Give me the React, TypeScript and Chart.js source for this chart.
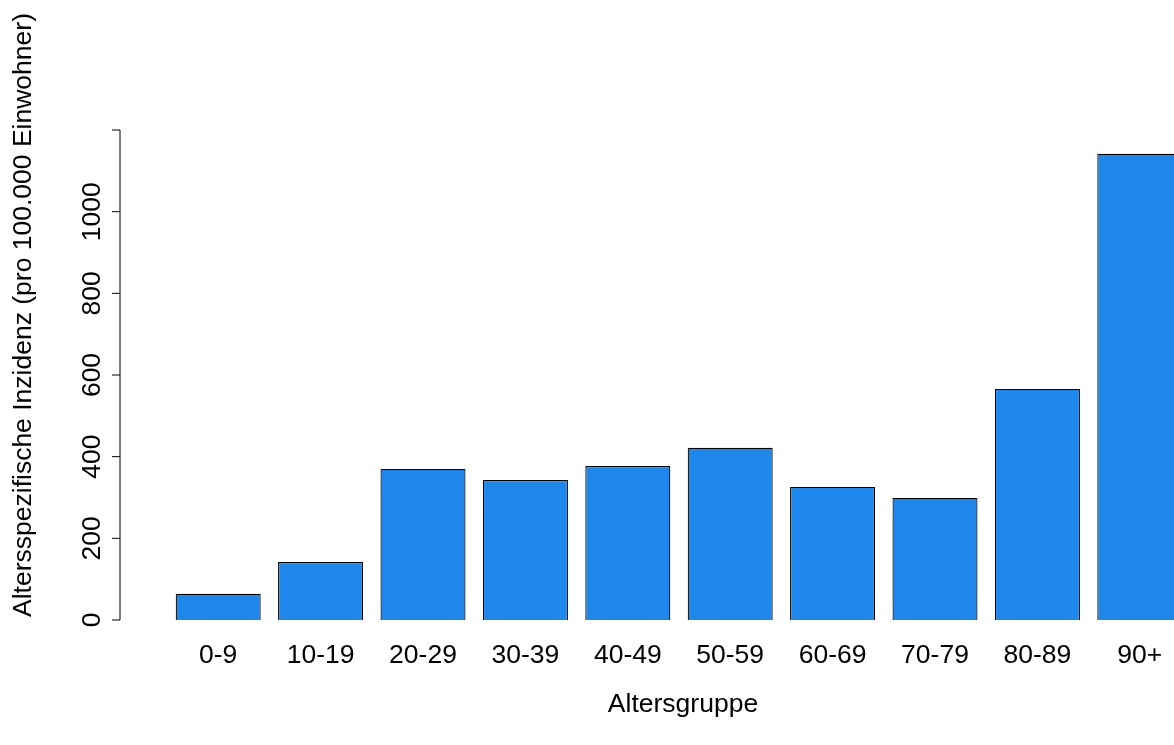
import { useEffect, useRef } from "react";
import Chart from "chart.js/auto";

const categories = ["0-9", "10-19", "20-29", "30-39", "40-49", "50-59", "60-69", "70-79", "80-89", "90+"];
const incidence = [64, 142, 370, 343, 377, 422, 326, 299, 566, 1142];
const yTicks = [0, 200, 400, 600, 800, 1000, 1200];
const yLabels = ["0", "200", "400", "600", "800", "1000"];

const FONT = "26.5px 'Liberation Sans', Arial, sans-serif";

const axesPlugin = {
  id: "rAxes",
  afterDraw(chart: any) {
    const ctx = chart.ctx;
    const y = chart.scales.y;
    const x = chart.scales.x;
    ctx.save();
    ctx.strokeStyle = "#000";
    ctx.fillStyle = "#000";
    ctx.lineWidth = 1;
    ctx.font = FONT;
    const ax = 120;
    ctx.beginPath();
    ctx.moveTo(ax, y.getPixelForValue(yTicks[0]));
    ctx.lineTo(ax, y.getPixelForValue(yTicks[yTicks.length - 1]));
    yTicks.forEach((t) => {
      const py = y.getPixelForValue(t);
      ctx.moveTo(ax, py);
      ctx.lineTo(ax - 8, py);
    });
    ctx.stroke();
    yLabels.forEach((l) => {
      const py = y.getPixelForValue(Number(l));
      ctx.save();
      ctx.translate(93, py);
      ctx.rotate(-Math.PI / 2);
      ctx.textAlign = "center";
      ctx.textBaseline = "middle";
      ctx.fillText(l, 0, 0);
      ctx.restore();
    });
    ctx.textAlign = "center";
    ctx.textBaseline = "middle";
    categories.forEach((c, i) => {
      ctx.fillText(c, x.getPixelForValue(i), 656);
    });
    ctx.fillText("Altersgruppe", 683, 705);
    ctx.save();
    ctx.translate(24, 315);
    ctx.rotate(-Math.PI / 2);
    ctx.fillText("Altersspezifische Inzidenz (pro 100.000 Einwohner)", 0, 0);
    ctx.restore();
    ctx.restore();
  },
};

export default function App() {
  const ref = useRef<HTMLCanvasElement | null>(null);
  useEffect(() => {
    if (!ref.current) return;
    const chart = new Chart(ref.current, {
      type: "bar",
      data: {
        labels: categories,
        datasets: [
          {
            data: incidence,
            backgroundColor: "#1E87EB",
            borderColor: "#000",
            borderWidth: 1.2,
            barPercentage: 0.83,
            categoryPercentage: 1,
          },
        ],
      },
      options: {
        responsive: false,
        animation: false,
        layout: { padding: { left: 167, right: 19, top: 130, bottom: 125 } },
        plugins: { legend: { display: false }, tooltip: { enabled: false } },
        scales: {
          x: { display: false, offset: true },
          y: { display: false, min: 0, max: 1200 },
        },
      },
      plugins: [axesPlugin],
    });
    return () => chart.destroy();
  }, []);
  return (
    <div style={{ position: "fixed", left: 0, top: 0, width: 1174, height: 745, overflow: "hidden", background: "#fff" }}>
      <canvas ref={ref} width={1210} height={745} />
    </div>
  );
}
